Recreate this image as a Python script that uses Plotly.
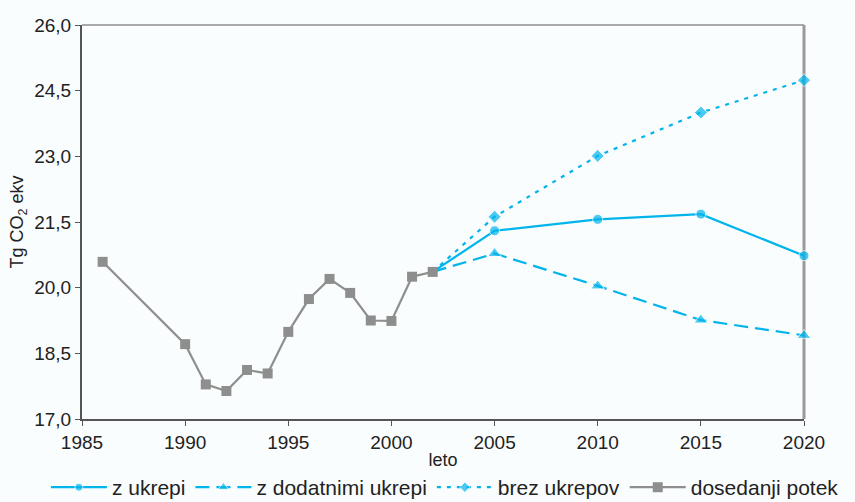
import plotly.graph_objects as go

# Historical data (dosedanji potek)
hist_years = [1986, 1990, 1991, 1992, 1993, 1994, 1995, 1996, 1997, 1998, 1999, 2000, 2001, 2002]
hist_vals = [20.59, 18.71, 17.79, 17.64, 18.12, 18.04, 18.99, 19.74, 20.20, 19.88, 19.25, 19.24, 20.25, 20.36]

# Projections (start from 2002)
proj_years = [2002, 2005, 2010, 2015, 2020]
z_ukrepi = [20.36, 21.30, 21.56, 21.68, 20.73]
z_dodatnimi = [20.36, 20.78, 20.04, 19.26, 18.91]
brez_ukrepov = [20.36, 21.62, 23.01, 24.00, 24.74]

series_names = ["z ukrepi", "z dodatnimi ukrepi", "brez ukrepov", "dosedanji potek"]

x_ticks = [1985, 1990, 1995, 2000, 2005, 2010, 2015, 2020]
y_ticks = [17.0, 18.5, 20.0, 21.5, 23.0, 24.5, 26.0]
y_ticklabels = ["17,0", "18,5", "20,0", "21,5", "23,0", "24,5", "26,0"]

CYAN = "#00b4ec"
GRAY = "#8e8e8e"

def sizes(n, s):
    return [0] + [s] * (n - 1)

fig = go.Figure()
fig.add_trace(go.Scatter(
    x=proj_years, y=z_ukrepi, name=series_names[0], mode="lines+markers",
    line=dict(color=CYAN, width=2.2),
    marker=dict(symbol="circle", color=CYAN, size=sizes(len(proj_years), 10)),
    cliponaxis=False))
fig.add_trace(go.Scatter(
    x=proj_years, y=z_dodatnimi, name=series_names[1], mode="lines+markers",
    line=dict(color=CYAN, width=2.2, dash="14px,7px"),
    marker=dict(symbol="triangle-up", color=CYAN, size=sizes(len(proj_years), 12)),
    cliponaxis=False))
fig.add_trace(go.Scatter(
    x=proj_years, y=brez_ukrepov, name=series_names[2], mode="lines+markers",
    line=dict(color=CYAN, width=2.2, dash="4px,6px"),
    marker=dict(symbol="diamond", color=CYAN, size=sizes(len(proj_years), 10)),
    cliponaxis=False))
fig.add_trace(go.Scatter(
    x=hist_years, y=hist_vals, name=series_names[3], mode="lines+markers",
    line=dict(color=GRAY, width=2.2),
    marker=dict(symbol="square", color=GRAY, size=10),
    cliponaxis=False))

fig.update_layout(
    width=855, height=502,
    margin=dict(l=82, r=51, t=25, b=83, autoexpand=False),
    paper_bgcolor="#fafdfd", plot_bgcolor="#fafdfd",
    font=dict(family="Liberation Sans, Arial, sans-serif", size=19, color="#222222"),
    showlegend=True,
    legend=dict(orientation="h", x=-0.05, xanchor="left", y=-0.122, yanchor="top",
                font=dict(size=21), itemwidth=56, bgcolor="rgba(0,0,0,0)",
                traceorder="normal"),
    shapes=[
        dict(type="line", xref="paper", yref="paper", x0=0, x1=1, y0=1, y1=1,
             line=dict(color="#aaaaaa", width=2), layer="below"),
        dict(type="line", xref="paper", yref="paper", x0=1, x1=1, y0=0, y1=1,
             line=dict(color="#999999", width=3), layer="below"),
    ],
)
fig.update_xaxes(
    range=[1985, 2020], tickvals=x_ticks, ticktext=[str(t) for t in x_ticks],
    showgrid=False, zeroline=False, showline=True, linecolor="#555555", linewidth=2,
    ticks="outside", ticklen=5, tickcolor="#555555", tickwidth=1, automargin=False,
    title=dict(text="leto", font=dict(size=18), standoff=2),
)
fig.update_yaxes(
    range=[17, 26], tickvals=y_ticks, ticktext=y_ticklabels,
    showgrid=False, zeroline=False, showline=True, linecolor="#555555", linewidth=2,
    ticks="outside", ticklen=5, tickcolor="#555555", tickwidth=1, automargin=False,
    title=dict(text="Tg CO<sub>2</sub> ekv", font=dict(size=18), standoff=6),
)

fig.write_html(
    "out.html",
    config={"displayModeBar": False},
    post_script="document.body.style.margin='0';document.body.style.overflow='hidden';",
)
